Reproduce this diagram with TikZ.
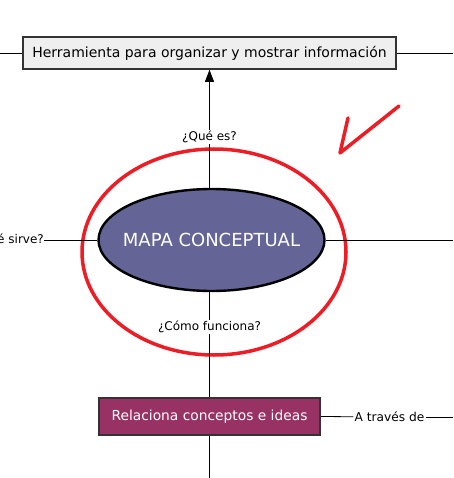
\documentclass[tikz,border=0pt]{standalone}
\usepackage{fontspec}
\setmainfont{DejaVu Sans}
\usetikzlibrary{shapes.geometric,arrows.meta}
\definecolor{cajagris}{HTML}{EFEFEF}
\definecolor{bordegris}{HTML}{333333}
\definecolor{lila}{HTML}{646496}
\definecolor{vino}{HTML}{983264}
\definecolor{rojo}{HTML}{EE1C24}

\begin{document}
\begin{tikzpicture}[x=1pt, y=-1pt,
        caja/.style={draw=bordegris, line width=1.6pt, rectangle, inner sep=0pt},
        enlace/.style={fill=white, inner sep=1pt, font=\fontsize{12}{14}\selectfont},
        linea/.style={line width=0.8pt}]
        \clip (0,0) rectangle (453,478);
        \fill[white] (0,0) rectangle (453,478);

        % marca roja
        \draw[rojo, line width=3.5pt] (214,252) ellipse [x radius=132, y radius=103];
        \draw[rojo, line width=3.5pt, line join=round, line cap=round] (348,118) -- (340,153) -- (399,106);

        \node (herr) at (209.5,53) [caja, fill=cajagris, minimum width=373pt, minimum height=32pt, font=\fontsize{14}{16}\selectfont] {Herramienta para organizar y mostrar información};
        \node (mapa) at (211.5,240) [draw, ellipse, line width=2.4pt, fill=lila, text=white, minimum width=226pt, minimum height=102pt, inner sep=0pt, font=\fontsize{18}{20}\selectfont] {\makebox[0pt]{MAPA CONCEPTUAL}};
        \node (rel) at (209.5,416.5) [caja, fill=vino, text=white, minimum width=221pt, minimum height=37pt, font=\fontsize{13.8}{16}\selectfont] {Relaciona conceptos e ideas};

        \node (sirve) at (44,240) [anchor=east, inner sep=0pt, font=\fontsize{12}{14}\selectfont] {¿Para qué sirve?};
        \node (traves) at (389.5,417) [inner sep=1pt, font=\fontsize{12.2}{14}\selectfont] {A través de};

        \coordinate (izq) at (0,53);
        \coordinate (der) at (453,53);
        \coordinate (mder) at (453,240);
        \coordinate (tder) at (453,417);
        \coordinate (abajo) at (209.5,478);

        \draw[linea] (herr.west) -- (izq);
        \draw[linea] (herr.east) -- (der);
        \draw[linea, -{Triangle[width=9pt, length=12pt]}] (mapa.north -| herr.south) -- (herr.south) node[pos=0.43, enlace] {¿Qué es?};
        \draw[linea] (sirve) -- (mapa.west);
        \draw[linea] (mapa.east) -- (mder);
        \draw[linea] (mapa.south -| rel.north) -- (rel.north) node[pos=0.33, enlace] {¿Cómo funciona?};
        \draw[linea] (rel.east) -- (traves);
        \draw[linea] (traves) -- (tder);
        \draw[linea] (rel.south) -- (abajo);
    \end{tikzpicture}
\end{document}
